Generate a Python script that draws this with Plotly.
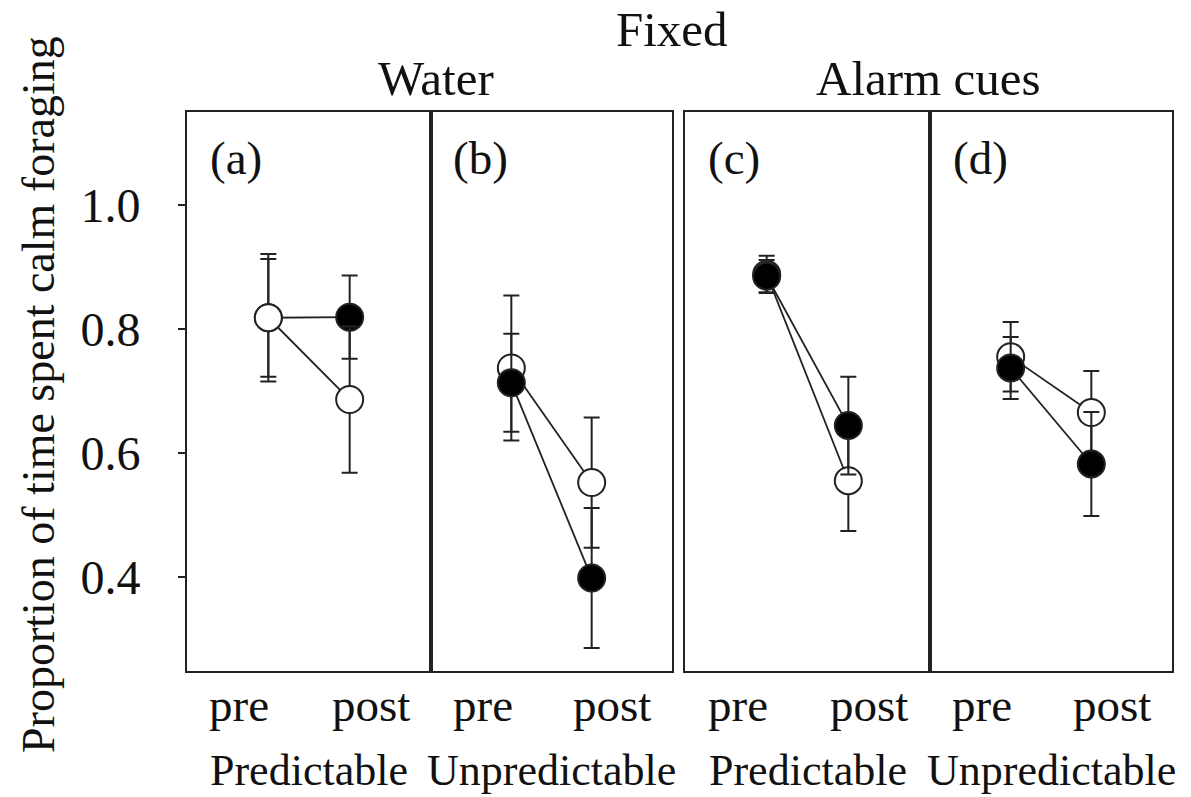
import plotly.graph_objects as go

# ---- data ----
panels = ["(a)", "(b)", "(c)", "(d)"]
phases = ["pre", "post"]
groups = ["Predictable", "Unpredictable", "Predictable", "Unpredictable"]
cue_titles = ["Water", "Alarm cues"]
top_title = "Fixed"
y_title = "Proportion of time spent calm foraging"
y_ticks = [0.4, 0.6, 0.8, 1.0]

# open circles
open_mean = [[0.818, 0.686], [0.737, 0.552], [0.888, 0.555], [0.755, 0.665]]
open_se = [[0.103, 0.118], [0.117, 0.105], [0.030, 0.081], [0.056, 0.067]]
# filled circles
filled_mean = [[0.818, 0.819], [0.713, 0.398], [0.885, 0.644], [0.737, 0.582]]
filled_se = [[0.095, 0.067], [0.079, 0.113], [0.026, 0.079], [0.050, 0.084]]
# which series is drawn on top in each panel
top_series = ["open", "filled", "filled", "filled"]

x_pos = [0, 1]

# ---- layout geometry ----
W, H = 1191, 797
L, R, T, B = 187, 19, 112, 126
pw = W - L - R
ph = H - T - B
def px_x(p):
    return (p - L) / pw
def px_y(p):
    return (H - B - p) / ph

edges = [(187, 431), (431, 672), (685, 930), (930, 1172)]
domains = [[px_x(a), px_x(b)] for a, b in edges]

FONT = "Liberation Serif"
INK = "#111111"
LINE = "#222222"

fig = go.Figure()

def add_series(i, mean, se, fill):
    ax = "" if i == 0 else str(i + 1)
    fig.add_trace(go.Scatter(
        x=x_pos, y=mean,
        xaxis="x" + ax, yaxis="y" + ax,
        mode="lines+markers",
        line=dict(color=LINE, width=1.8),
        marker=dict(size=27, color=fill, line=dict(color=LINE, width=2), symbol="circle"),
        error_y=dict(type="data", array=se, visible=True, color=LINE, thickness=2, width=8),
        showlegend=False, hoverinfo="skip",
    ))

for i in range(4):
    if top_series[i] == "open":
        add_series(i, filled_mean[i], filled_se[i], "black")
        add_series(i, open_mean[i], open_se[i], "white")
    else:
        add_series(i, open_mean[i], open_se[i], "white")
        add_series(i, filled_mean[i], filled_se[i], "black")

yrange = [0.248, 1.15]
layout = dict(
    width=W, height=H,
    margin=dict(l=L, r=R, t=T, b=B),
    paper_bgcolor="white", plot_bgcolor="white",
    font=dict(family=FONT, color=INK, size=46),
    showlegend=False,
)
for i in range(4):
    s = "" if i == 0 else str(i + 1)
    layout["xaxis" + s] = dict(
        domain=domains[i], range=[-1, 2], anchor="y" + s,
        showticklabels=False, ticks="", showgrid=False, zeroline=False,
        showline=True, mirror=True, linecolor=LINE, linewidth=2,
    )
    ya = dict(
        domain=[0, 1], range=yrange, anchor="x" + s,
        showgrid=False, zeroline=False,
        showline=True, mirror=True, linecolor=LINE, linewidth=2,
    )
    if i == 0:
        ya.update(tickmode="array", tickvals=y_ticks, tickformat=".1f",
                  ticks="outside", ticklen=7, tickwidth=2, tickcolor=LINE,
                  tickfont=dict(family=FONT, size=48, color=INK),
                  ticklabelstandoff=28)
    else:
        ya.update(showticklabels=False, ticks="")
    layout["yaxis" + s] = ya

annotations = []
for i in range(4):
    s = "" if i == 0 else str(i + 1)
    annotations.append(dict(
        text=panels[i], xref="x" + s + " domain", yref="y" + s + " domain",
        x=0.085, y=0.918, xanchor="left", yanchor="middle", showarrow=False,
        font=dict(family=FONT, size=47, color=INK)))
    for lab, fx in zip(phases, [0.215, 0.753]):
        annotations.append(dict(
            text=lab, xref="x" + s + " domain", yref="paper",
            x=fx, y=px_y(705), xanchor="center", yanchor="middle", showarrow=False,
            font=dict(family=FONT, size=47, color=INK)))
    annotations.append(dict(
        text=groups[i], xref="x" + s + " domain", yref="paper",
        x=0.5, y=px_y(770), xanchor="center", yanchor="middle", showarrow=False,
        font=dict(family=FONT, size=44, color=INK)))

annotations.append(dict(text=cue_titles[0], xref="paper", yref="paper",
                        x=px_x(436), y=px_y(78), xanchor="center", yanchor="middle",
                        showarrow=False, font=dict(family=FONT, size=49, color=INK)))
annotations.append(dict(text=cue_titles[1], xref="paper", yref="paper",
                        x=px_x(928), y=px_y(78), xanchor="center", yanchor="middle",
                        showarrow=False, font=dict(family=FONT, size=49, color=INK)))
annotations.append(dict(text=top_title, xref="paper", yref="paper",
                        x=px_x(672), y=px_y(30), xanchor="center", yanchor="middle",
                        showarrow=False, font=dict(family=FONT, size=49, color=INK)))
annotations.append(dict(text=y_title, xref="paper", yref="paper",
                        x=px_x(38), y=px_y(395), xanchor="center", yanchor="middle",
                        textangle=-90, showarrow=False,
                        font=dict(family=FONT, size=46, color=INK)))
layout["annotations"] = annotations

fig.update_layout(**layout)
fig.write_html("out.html",
               config={"displayModeBar": False},
               post_script="document.body.style.margin='0';document.body.style.overflow='hidden';")
